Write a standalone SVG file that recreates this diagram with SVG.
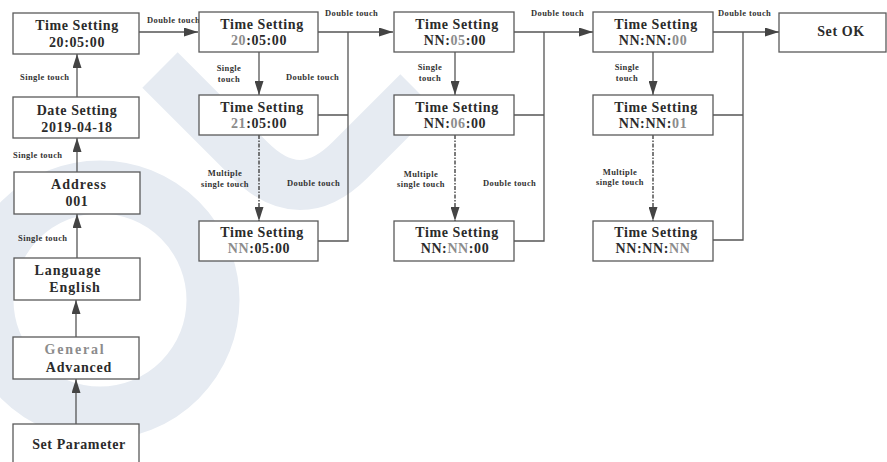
<svg xmlns="http://www.w3.org/2000/svg" width="887" height="462" viewBox="0 0 887 462">
<defs>
<style>
.box{fill:#fff;stroke:#5a5a5a;stroke-width:1.3}
.t{font-family:"Liberation Serif","Times New Roman",serif;font-weight:bold;font-size:14px;fill:#2b2b2b;text-anchor:middle;letter-spacing:0.6px}
.g{fill:#8c8c8c}
.l{font-family:"Liberation Serif","Times New Roman",serif;font-weight:bold;font-size:8.5px;fill:#333;letter-spacing:0.4px}
.c{text-anchor:middle}
.ln{fill:none;stroke:#555;stroke-width:1.3}
.ar{marker-end:url(#ah)}
.dt{stroke:#444;stroke-width:1.4;stroke-dasharray:4 1.5 1.5 1.5}
.wm{fill:none;stroke:#e6ebf2}
</style>
<marker id="ah" markerWidth="14" markerHeight="9" refX="14" refY="4.5" orient="auto" markerUnits="userSpaceOnUse"><path d="M0,0 L14,4.5 L0,9 z" fill="#444"/></marker>
</defs>
<g id="watermark">
<circle class="wm" cx="100" cy="300" r="113" stroke-width="53"/>
<path class="wm" d="M160,70 L250,160 Q300,210 350,160 L418,92" stroke-width="50"/>
</g>
<g id="connectors">
<path class="ln ar" d="M139,32 H198"/>
<path class="ln ar" d="M77,97 V54"/>
<path class="ln ar" d="M77,172 V138"/>
<path class="ln ar" d="M77,258 V214"/>
<path class="ln ar" d="M76,337 V300"/>
<path class="ln ar" d="M76,424 V379"/>
<path class="ln ar" d="M259,52 V95"/>
<path class="ln ar dt" d="M259,135 V221"/>
<path class="ln ar" d="M318,32 H393"/>
<path class="ln" d="M348,32 V241 H318 M318,115 H348"/>
<path class="ln ar" d="M455,52 V95"/>
<path class="ln ar dt" d="M455,135 V221"/>
<path class="ln ar" d="M514,32 H593"/>
<path class="ln" d="M544,32 V241 H514 M514,115 H544"/>
<path class="ln ar" d="M653,52 V95"/>
<path class="ln ar dt" d="M653,135 V221"/>
<path class="ln ar" d="M713,32 H779"/>
<path class="ln" d="M743,32 V240 H713 M713,115 H743"/>
<text class="l" x="147" y="23">Double touch</text>
<text class="l" x="20" y="80">Single touch</text>
<text class="l" x="13" y="158">Single touch</text>
<text class="l" x="18" y="241">Single touch</text>
<text class="l" x="325" y="16">Double touch</text>
<text class="l c" x="229" y="71">Single</text>
<text class="l c" x="229" y="82">touch</text>
<text class="l" x="286" y="80">Double touch</text>
<text class="l c" x="225" y="176">Multiple</text>
<text class="l c" x="225" y="187">single touch</text>
<text class="l" x="287" y="186">Double touch</text>
<text class="l" x="531" y="16">Double touch</text>
<text class="l c" x="430" y="70">Single</text>
<text class="l c" x="430" y="81">touch</text>
<text class="l c" x="421" y="177">Multiple</text>
<text class="l c" x="421" y="187">single touch</text>
<text class="l" x="483" y="186">Double touch</text>
<text class="l" x="718" y="16">Double touch</text>
<text class="l c" x="627" y="70">Single</text>
<text class="l c" x="627" y="81">touch</text>
<text class="l c" x="620" y="175">Multiple</text>
<text class="l c" x="620" y="185">single touch</text>
</g>
<g id="n-time1"><rect class="box" x="13" y="13" width="126" height="41"/><text class="t" x="77" y="30">Time Setting</text><text class="t" x="77" y="47">20:05:00</text></g>
<g id="n-date"><rect class="box" x="13" y="97" width="126" height="41"/><text class="t" x="77" y="115">Date Setting</text><text class="t" x="77" y="132">2019-04-18</text></g>
<g id="n-address"><rect class="box" x="14" y="172" width="126" height="42"/><text class="t" x="79" y="189" style="letter-spacing:1px">Address</text><text class="t" x="77" y="206">001</text></g>
<g id="n-language"><rect class="box" x="14" y="258" width="126" height="42"/><text class="t" x="68" y="275" style="letter-spacing:1px">Language</text><text class="t" x="75" y="292" style="letter-spacing:0.9px">English</text></g>
<g id="n-general"><rect class="box" x="13" y="337" width="126" height="42"/><text class="t g" x="75" y="354" style="letter-spacing:1.8px">General</text><text class="t" x="79" y="372" style="letter-spacing:0.8px">Advanced</text></g>
<g id="n-setparam"><rect class="box" x="13" y="424" width="126" height="50"/><text class="t" x="79" y="449">Set Parameter</text></g>
<g id="n-t2"><rect class="box" x="199" y="12" width="119" height="40"/><text class="t" x="262" y="29">Time Setting</text><text class="t" x="259" y="45"><tspan class="g">20</tspan>:05:00</text></g>
<g id="n-t3"><rect class="box" x="199" y="95" width="119" height="40"/><text class="t" x="262" y="112">Time Setting</text><text class="t" x="259" y="128"><tspan class="g">21</tspan>:05:00</text></g>
<g id="n-t4"><rect class="box" x="199" y="221" width="119" height="40"/><text class="t" x="262" y="237">Time Setting</text><text class="t" x="259" y="253"><tspan class="g">NN</tspan>:05:00</text></g>
<g id="n-t5"><rect class="box" x="394" y="12" width="120" height="40"/><text class="t" x="457" y="29">Time Setting</text><text class="t" x="455" y="45">NN:<tspan class="g">05</tspan>:00</text></g>
<g id="n-t6"><rect class="box" x="394" y="95" width="120" height="40"/><text class="t" x="457" y="112">Time Setting</text><text class="t" x="455" y="128">NN:<tspan class="g">06</tspan>:00</text></g>
<g id="n-t7"><rect class="box" x="394" y="221" width="120" height="40"/><text class="t" x="457" y="237">Time Setting</text><text class="t" x="455" y="253">NN:<tspan class="g">NN</tspan>:00</text></g>
<g id="n-t9"><rect class="box" x="593" y="12" width="120" height="40"/><text class="t" x="656" y="29">Time Setting</text><text class="t" x="653" y="45">NN:NN:<tspan class="g">00</tspan></text></g>
<g id="n-t10"><rect class="box" x="593" y="95" width="120" height="40"/><text class="t" x="656" y="112">Time Setting</text><text class="t" x="653" y="128">NN:NN:<tspan class="g">01</tspan></text></g>
<g id="n-t11"><rect class="box" x="593" y="221" width="120" height="40"/><text class="t" x="656" y="237">Time Setting</text><text class="t" x="653" y="253">NN:NN:<tspan class="g">NN</tspan></text></g>
<g id="n-setok"><rect class="box" x="779" y="13" width="107" height="39"/><text class="t" x="841" y="36">Set OK</text></g>
</svg>
